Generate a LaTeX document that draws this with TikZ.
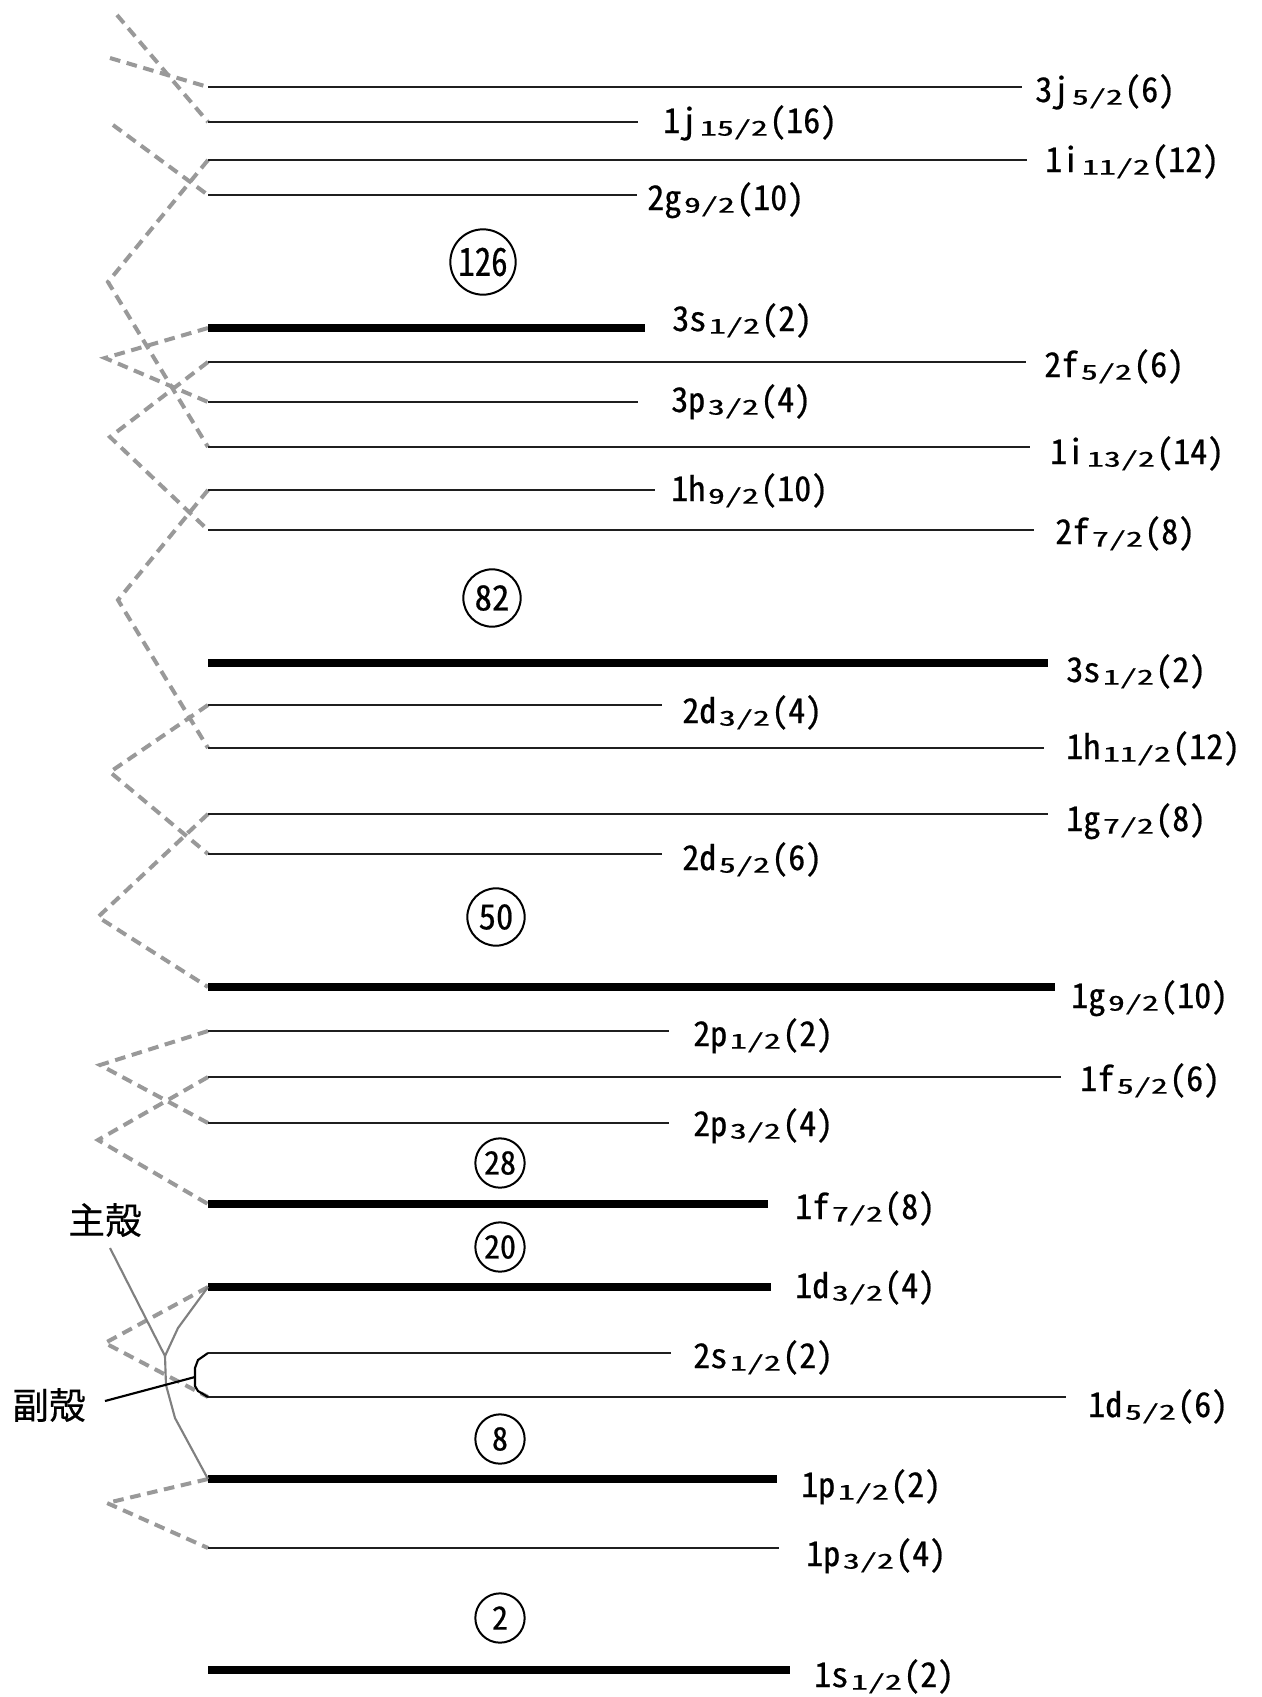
\documentclass[tikz,border=0pt]{standalone}
\usepackage{fontspec}
\usepackage{graphicx}
\newfontfamily\jp[RawFeature=+hwid,FakeBold=0.6]{Noto Sans CJK JP}
\newfontfamily\jpk[FakeBold=0.4]{Noto Sans CJK JP}
\newcommand\lvl[4]{#1#2\hspace{2pt}\raisebox{-2pt}{\scalebox{1}[0.6]{#3}}\hspace{1pt}(#4)}
\begin{document}
\begin{tikzpicture}[x=0.75pt,y=-0.75pt,
  lvthin/.style={draw=black!88, line width=2.1pt},
  lvthick/.style={draw=black, line width=5.6pt},
  dsh/.style={draw=black!40, line width=3pt, dash pattern=on 8pt off 5pt},
  mshell/.style={draw=black!50, line width=1.6pt},
  brk/.style={draw=black, line width=1.6pt},
  lab/.style={anchor=base west, inner sep=0pt, font=\jp\fontsize{25.5pt}{30pt}\selectfont},
  magic/.style={circle, draw=black, line width=1.5pt, inner sep=0pt},
  jtxt/.style={inner sep=0pt, font=\jpk\fontsize{27.5pt}{32pt}\selectfont}
]
\useasboundingbox (0,0) rectangle (1262,1697);

% level coordinates
\coordinate (l1) at (208,87);   \coordinate (r1) at (1022,87);
\coordinate (l2) at (208,122);  \coordinate (r2) at (638,122);
\coordinate (l3) at (208,160);  \coordinate (r3) at (1027,160);
\coordinate (l4) at (208,195);  \coordinate (r4) at (637,195);
\coordinate (l5) at (208,328);  \coordinate (r5) at (645,328);
\coordinate (l6) at (208,362);  \coordinate (r6) at (1026,362);
\coordinate (l7) at (208,402);  \coordinate (r7) at (638,402);
\coordinate (l8) at (208,447);  \coordinate (r8) at (1030,447);
\coordinate (l9) at (208,490);  \coordinate (r9) at (655,490);
\coordinate (l10) at (208,530); \coordinate (r10) at (1034,530);
\coordinate (l11) at (208,663); \coordinate (r11) at (1048,663);
\coordinate (l12) at (208,705); \coordinate (r12) at (662,705);
\coordinate (l13) at (208,748); \coordinate (r13) at (1044,748);
\coordinate (l14) at (208,814); \coordinate (r14) at (1048,814);
\coordinate (l15) at (208,854); \coordinate (r15) at (662,854);
\coordinate (l16) at (208,987); \coordinate (r16) at (1055,987);
\coordinate (l17) at (208,1031); \coordinate (r17) at (669,1031);
\coordinate (l18) at (208,1077); \coordinate (r18) at (1061,1077);
\coordinate (l19) at (208,1123); \coordinate (r19) at (669,1123);
\coordinate (l20) at (208,1204); \coordinate (r20) at (768,1204);
\coordinate (l21) at (208,1287); \coordinate (r21) at (771,1287);
\coordinate (l22) at (208,1353); \coordinate (r22) at (671,1353);
\coordinate (l23) at (208,1397); \coordinate (r23) at (1066,1397);
\coordinate (l24) at (208,1479); \coordinate (r24) at (777,1479);
\coordinate (l25) at (208,1548); \coordinate (r25) at (779,1548);
\coordinate (l26) at (208,1670); \coordinate (r26) at (790,1670);

% dashed crossing lines
\coordinate (aS) at (117,15);
\coordinate (bS) at (110,58);
\coordinate (cS) at (113,125);
\coordinate (vD) at (108,282);
\coordinate (vE) at (105,358);
\coordinate (vF) at (110,437);
\coordinate (vH) at (118,600);
\coordinate (vI) at (110,772);
\coordinate (vJ) at (98,917);
\coordinate (vK) at (100,1065);
\coordinate (vL) at (98,1140);
\coordinate (vM) at (105,1343);
\coordinate (vN) at (107,1503);
\draw[dsh] (aS) -- (l2);
\draw[dsh] (bS) -- (l1);
\draw[dsh] (cS) -- (l4);
\draw[dsh] (l3) -- (vD) -- (l8);
\draw[dsh] (l5) -- (vE) -- (l7);
\draw[dsh] (l6) -- (vF) -- (l10);
\draw[dsh] (l9) -- (vH) -- (l13);
\draw[dsh] (l12) -- (vI) -- (l15);
\draw[dsh] (l14) -- (vJ) -- (l16);
\draw[dsh] (l17) -- (vK) -- (l19);
\draw[dsh] (l18) -- (vL) -- (l20);
\draw[dsh] (l21) -- (vM) -- (l23);
\draw[dsh] (l24) -- (vN) -- (l25);

% level lines
\draw[lvthin] (l1) -- (r1);
\draw[lvthin] (l2) -- (r2);
\draw[lvthin] (l3) -- (r3);
\draw[lvthin] (l4) -- (r4);
\draw[lvthick] (l5) -- (r5);
\draw[lvthin] (l6) -- (r6);
\draw[lvthin] (l7) -- (r7);
\draw[lvthin] (l8) -- (r8);
\draw[lvthin] (l9) -- (r9);
\draw[lvthin] (l10) -- (r10);
\draw[lvthick] (l11) -- (r11);
\draw[lvthin] (l12) -- (r12);
\draw[lvthin] (l13) -- (r13);
\draw[lvthin] (l14) -- (r14);
\draw[lvthin] (l15) -- (r15);
\draw[lvthick] (l16) -- (r16);
\draw[lvthin] (l17) -- (r17);
\draw[lvthin] (l18) -- (r18);
\draw[lvthin] (l19) -- (r19);
\draw[lvthick] (l20) -- (r20);
\draw[lvthick] (l21) -- (r21);
\draw[lvthin] (l22) -- (r22);
\draw[lvthin] (l23) -- (r23);
\draw[lvthick] (l24) -- (r24);
\draw[lvthin] (l25) -- (r25);
\draw[lvthick] (l26) -- (r26);

% labels
\node[lab] (t1) at (1035,102) {\lvl{3}{j}{5/2}{6}};
\node[lab] (t2) at (663,133) {\lvl{1}{j}{15/2}{16}};
\node[lab] (t3) at (1045,172) {\lvl{1}{i}{11/2}{12}};
\node[lab] (t4) at (647,210) {\lvl{2}{g}{9/2}{10}};
\node[lab] (t5) at (672,331) {\lvl{3}{s}{1/2}{2}};
\node[lab] (t6) at (1044,377) {\lvl{2}{f}{5/2}{6}};
\node[lab] (t7) at (671,412) {\lvl{3}{p}{3/2}{4}};
\node[lab] (t8) at (1050,464) {\lvl{1}{i}{13/2}{14}};
\node[lab] (t9) at (671,501) {\lvl{1}{h}{9/2}{10}};
\node[lab] (t10) at (1055,544) {\lvl{2}{f}{7/2}{8}};
\node[lab] (t11) at (1066,682) {\lvl{3}{s}{1/2}{2}};
\node[lab] (t12) at (682,723) {\lvl{2}{d}{3/2}{4}};
\node[lab] (t13) at (1066,759) {\lvl{1}{h}{11/2}{12}};
\node[lab] (t14) at (1066,831) {\lvl{1}{g}{7/2}{8}};
\node[lab] (t15) at (682,870) {\lvl{2}{d}{5/2}{6}};
\node[lab] (t16) at (1071,1008) {\lvl{1}{g}{9/2}{10}};
\node[lab] (t17) at (693,1046) {\lvl{2}{p}{1/2}{2}};
\node[lab] (t18) at (1080,1091) {\lvl{1}{f}{5/2}{6}};
\node[lab] (t19) at (693,1136) {\lvl{2}{p}{3/2}{4}};
\node[lab] (t20) at (795,1219) {\lvl{1}{f}{7/2}{8}};
\node[lab] (t21) at (795,1298) {\lvl{1}{d}{3/2}{4}};
\node[lab] (t22) at (693,1368) {\lvl{2}{s}{1/2}{2}};
\node[lab] (t23) at (1088,1417) {\lvl{1}{d}{5/2}{6}};
\node[lab] (t24) at (801,1497) {\lvl{1}{p}{1/2}{2}};
\node[lab] (t25) at (806,1566) {\lvl{1}{p}{3/2}{4}};
\node[lab] (t26) at (814,1687) {\lvl{1}{s}{1/2}{2}};

% magic numbers
\node[magic, minimum size=49pt, font=\jp\fontsize{29pt}{32pt}\selectfont] (m126) at (483,262) {\scalebox{0.85}[1]{126}};
\node[magic, minimum size=43pt, font=\jp\fontsize{26pt}{30pt}\selectfont] (m82) at (492,598) {82};
\node[magic, minimum size=43pt, font=\jp\fontsize{26pt}{30pt}\selectfont] (m50) at (496,917) {50};
\node[magic, minimum size=37pt, font=\jp\fontsize{24pt}{28pt}\selectfont] (m28) at (500,1163) {28};
\node[magic, minimum size=37pt, font=\jp\fontsize{24pt}{28pt}\selectfont] (m20) at (500,1247) {20};
\node[magic, minimum size=37pt, font=\jp\fontsize{24pt}{28pt}\selectfont] (m8) at (500,1439) {8};
\node[magic, minimum size=37pt, font=\jp\fontsize{24pt}{28pt}\selectfont] (m2) at (500,1618) {2};

% main shell / sub shell annotations
\node[jtxt] (shu) at (105,1220) {主殻};
\coordinate (shuP) at (110,1248);
\coordinate (jn) at (165,1356);
\coordinate (m1) at (178,1328);
\coordinate (m2a) at (166,1385);
\coordinate (m3) at (175,1418);
\draw[mshell] (shuP) -- (jn);
\draw[mshell] (jn) -- (m1) -- (l21);
\draw[mshell] (jn) -- (m2a) -- (m3) -- (l24);

\node[jtxt] (fuk) at (49,1405) {副殻};
\coordinate (fukP) at (105,1401);
\coordinate (b1) at (198,1360);
\coordinate (b2) at (195,1368);
\coordinate (tip) at (195,1377);
\coordinate (b3) at (195,1386);
\coordinate (b4) at (198,1391);
\draw[brk] (l22) -- (b1) -- (b2) -- (tip) -- (b3) -- (b4) -- (l23);
\draw[brk] (fukP) -- (tip);
\end{tikzpicture}
\end{document}
